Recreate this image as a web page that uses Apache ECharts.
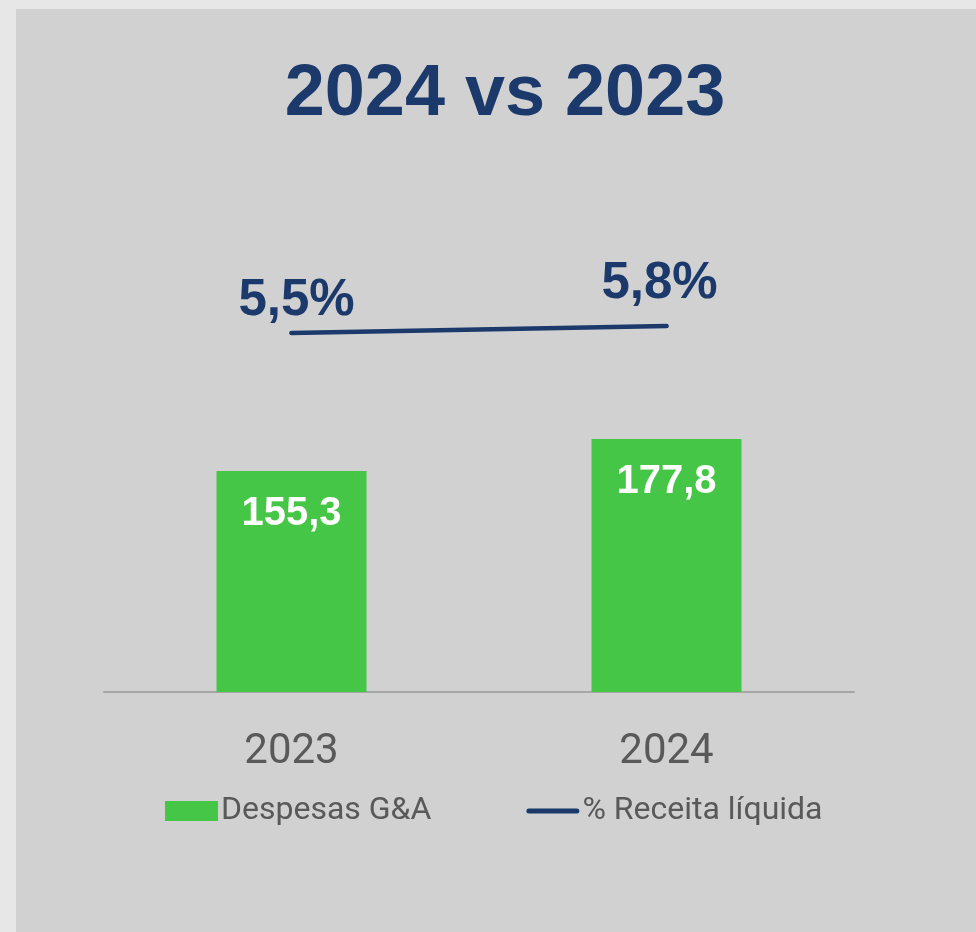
<!DOCTYPE html>
<html>
<head>
<meta charset="utf-8">
<script src="https://cdn.jsdelivr.net/npm/echarts@6/dist/echarts.min.js"></script>
<style>
  html, body { margin: 0; padding: 0; background: #e7e7e7; }
  #chart { width: 976px; height: 932px; }
</style>
</head>
<body>
<div id="chart"></div>
<script>
// data
const years = ['2023', '2024'];
const despesas = [155.3, 177.8];       // R$ mi, bars
const receitaPct = [5.5, 5.8];         // % receita líquida, line
const seriesNames = ['Despesas G&A', '% Receita líquida'];

const NAVY = '#1b3a6b';
const GREEN = '#46c646';
const GREY = '#595959';

// comma decimal, like the source
function br(v) {
    return v.toFixed(1).replace('.', ',');
}

// label offsets for the two % labels
const pctOffsets = [[5, 0], [-7, -10]];

// thin rounded line for the legend, two specks keep the 53x20 box
const lineIcon = 'path://M0,0 L0.01,0 L0.01,0.01 Z M53,20 L52.99,20 L52.99,19.99 Z ' +
    'M2.5,7.5 L50.5,7.5 A2.5,2.5 0 0 1 50.5,12.5 L2.5,12.5 A2.5,2.5 0 0 1 2.5,7.5 Z';

const chart = echarts.init(document.getElementById('chart'));
chart.setOption({
    backgroundColor: '#e7e7e7',
    animation: false,
    graphic: [{
        type: 'rect',
        z: -10,
        shape: {x: 16, y: 9, width: 960, height: 923},
        style: {fill: '#d1d1d1'}
    }],
    title: {
        text: '2024 vs 2023',
        left: 500,
        top: 54,
        textAlign: 'center',
        textStyle: {
            color: NAVY,
            fontFamily: 'Liberation Sans',
            fontWeight: 'bold',
            fontSize: 72
        }
    },
    grid: {left: 104, right: 122, top: 194, bottom: 240},
    legend: {
        left: 160,
        top: 790,
        itemWidth: 53,
        itemHeight: 20,
        itemGap: 95,
        textStyle: {
            color: GREY,
            fontFamily: 'Roboto',
            fontSize: 32,
            padding: [0, 0, 0, -2]
        },
        data: [
            {name: seriesNames[0], icon: 'rect'},
            {name: seriesNames[1], icon: lineIcon}
        ]
    },
    xAxis: {
        type: 'category',
        data: years,
        axisTick: {show: false},
        axisLine: {lineStyle: {color: '#a6a6a6', width: 2}},
        axisLabel: {
            color: GREY,
            fontFamily: 'Roboto',
            fontSize: 42,
            margin: 39
        }
    },
    yAxis: [{
        type: 'value',
        min: 0,
        max: 350,
        show: false
    }, {
        type: 'value',
        min: -10,
        max: 11.5,
        show: false
    }],
    series: [{
        name: seriesNames[0],
        type: 'bar',
        data: despesas,
        barWidth: 150,
        itemStyle: {color: GREEN},
        label: {
            show: true,
            position: 'insideTop',
            distance: 23,
            color: '#ffffff',
            fontFamily: 'Liberation Sans',
            fontWeight: 'bold',
            fontSize: 40,
            formatter: p => br(p.value)
        }
    }, {
        name: seriesNames[1],
        type: 'line',
        yAxisIndex: 1,
        symbol: 'circle',
        symbolSize: 4,
        itemStyle: {color: NAVY},
        lineStyle: {color: NAVY, width: 4.5, cap: 'round'},
        data: receitaPct.map((v, i) => ({
            value: v,
            label: {offset: pctOffsets[i]}
        })),
        label: {
            show: true,
            position: 'top',
            color: NAVY,
            fontFamily: 'Liberation Sans',
            fontWeight: 'bold',
            fontSize: 51,
            formatter: p => br(p.value) + '%'
        }
    }]
});
</script>
</body>
</html>
